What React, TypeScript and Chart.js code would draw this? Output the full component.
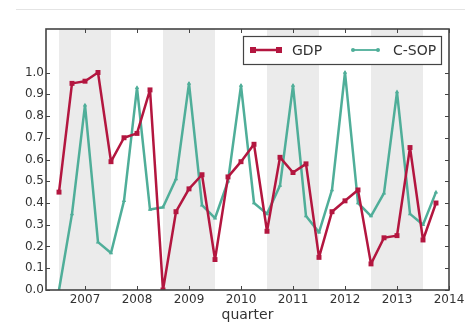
import { useEffect, useRef } from "react";
import { Chart, registerables } from "chart.js";

Chart.register(...registerables);

// Quarterly series, 2007Q1 .. 2014Q2
const years = ["2007", "2008", "2009", "2010", "2011", "2012", "2013", "2014"];
const gdp = [
  0.45, 0.95, 0.96, 1.0, 0.59, 0.7, 0.72, 0.92,
  0.0, 0.36, 0.465, 0.53, 0.14, 0.52, 0.59, 0.67,
  0.27, 0.61, 0.54, 0.58, 0.15, 0.36, 0.41, 0.46,
  0.12, 0.24, 0.25, 0.655, 0.23, 0.4,
];
const csop = [
  0.0, 0.35, 0.85, 0.22, 0.17, 0.41, 0.93, 0.37,
  0.38, 0.51, 0.95, 0.39, 0.33, 0.5, 0.94, 0.4,
  0.35, 0.48, 0.94, 0.34, 0.265, 0.46, 1.0, 0.4,
  0.34, 0.445, 0.91, 0.35, 0.3, 0.45,
];
const yTicks = [0, 0.1, 0.2, 0.3, 0.4, 0.5, 0.6, 0.7, 0.8, 0.9, 1.0];

const RED = "#b3163f";
const TEAL = "#4fae99";
const AXIS = "#444444";
const FONT = "'DejaVu Sans', sans-serif";

const decorations = {
  id: "decorations",
  beforeDatasetsDraw(chart: any) {
    const { ctx, chartArea, scales } = chart;
    const { top, bottom } = chartArea;
    const x = scales.x;
    ctx.save();
    ctx.fillStyle = "#ebebeb";
    years.forEach((_, i) => {
      if (i % 2 !== 0) return;
      const a = x.getPixelForValue(4 * i);
      const b = x.getPixelForValue(Math.min(4 * i + 4, x.max));
      ctx.fillRect(a, top, b - a, bottom - top);
    });
    ctx.restore();
  },
  afterDatasetsDraw(chart: any) {
    const { ctx, chartArea, scales } = chart;
    const { left, right, top, bottom } = chartArea;
    ctx.save();
    // inward tick marks on all four sides
    ctx.strokeStyle = AXIS;
    ctx.lineWidth = 1;
    ctx.beginPath();
    yTicks.forEach((v) => {
      const py = Math.round(scales.y.getPixelForValue(v)) + 0.5;
      ctx.moveTo(left, py);
      ctx.lineTo(left + 4, py);
      ctx.moveTo(right, py);
      ctx.lineTo(right - 4, py);
    });
    years.forEach((_, i) => {
      const px = Math.round(scales.x.getPixelForValue(4 * i + 2)) + 0.5;
      ctx.moveTo(px, bottom);
      ctx.lineTo(px, bottom - 4);
      ctx.moveTo(px, top);
      ctx.lineTo(px, top + 4);
    });
    ctx.stroke();
    // axes frame
    ctx.lineWidth = 1.6;
    ctx.strokeRect(left, top, right - left, bottom - top);
    ctx.restore();
  },
  afterDraw(chart: any) {
    const { ctx, chartArea } = chart;
    const { left, right } = chartArea;
    ctx.save();
    // faint rule near the top of the figure
    ctx.strokeStyle = "#e4e4e4";
    ctx.lineWidth = 1;
    ctx.beginPath();
    ctx.moveTo(16, 9.5);
    ctx.lineTo(465, 9.5);
    ctx.stroke();

    // axis title
    ctx.fillStyle = "#333";
    ctx.font = `14px ${FONT}`;
    ctx.textAlign = "center";
    ctx.textBaseline = "middle";
    ctx.fillText("quarter", (left + right) / 2, 315);

    // legend
    const lx = 243, ly = 36, lw = 198, lh = 28;
    ctx.fillStyle = "#ffffff";
    ctx.fillRect(lx, ly, lw, lh);
    ctx.strokeStyle = AXIS;
    ctx.lineWidth = 1.2;
    ctx.strokeRect(lx + 0.5, ly + 0.5, lw, lh);
    const cy = ly + lh / 2;
    // GDP entry
    ctx.strokeStyle = RED;
    ctx.lineWidth = 2.5;
    ctx.beginPath();
    ctx.moveTo(253, cy);
    ctx.lineTo(279, cy);
    ctx.stroke();
    ctx.fillStyle = RED;
    ctx.fillRect(250, cy - 3, 6, 6);
    ctx.fillRect(276, cy - 3, 6, 6);
    // C-SOP entry
    ctx.strokeStyle = TEAL;
    ctx.lineWidth = 1.8;
    ctx.beginPath();
    ctx.moveTo(353, cy);
    ctx.lineTo(378, cy);
    ctx.stroke();
    ctx.fillStyle = TEAL;
    [353, 378].forEach((px) => {
      ctx.beginPath();
      ctx.arc(px, cy, 2, 0, Math.PI * 2);
      ctx.fill();
    });
    ctx.fillStyle = "#333";
    ctx.font = `14px ${FONT}`;
    ctx.textAlign = "left";
    ctx.fillText("GDP", 292, cy + 1);
    ctx.fillText("C-SOP", 393, cy + 1);
    ctx.restore();
  },
};

export default function App() {
  const canvasRef = useRef<HTMLCanvasElement | null>(null);

  useEffect(() => {
    const canvas = canvasRef.current;
    if (!canvas) return;
    const chart = new Chart(canvas, {
      type: "line",
      data: {
        datasets: [
          {
            label: "GDP",
            data: gdp.map((v, i) => ({ x: i, y: v })),
            borderColor: RED,
            backgroundColor: RED,
            borderWidth: 2.5,
            borderJoinStyle: "round",
            pointStyle: "rect",
            pointRadius: 3.5,
            pointBorderWidth: 0,
            tension: 0,
          },
          {
            label: "C-SOP",
            data: csop.map((v, i) => ({ x: i, y: v })),
            borderColor: TEAL,
            backgroundColor: TEAL,
            borderWidth: 2.5,
            borderJoinStyle: "round",
            pointStyle: "triangle",
            pointRadius: 2.5,
            pointBorderWidth: 0,
            tension: 0,
          },
        ],
      },
      options: {
        animation: false,
        responsive: false,
        events: [],
        layout: { padding: { top: 29, right: 21, left: 0, bottom: 0 } },
        plugins: { legend: { display: false }, tooltip: { enabled: false } },
        scales: {
          x: {
            type: "linear",
            min: -1,
            max: 30,
            grid: { display: false, drawTicks: false },
            border: { display: false },
            afterBuildTicks: (scale: any) => {
              scale.ticks = years.map((_, i) => ({ value: 4 * i + 2 }));
            },
            afterFit: (scale: any) => {
              scale.height = 32;
            },
            ticks: {
              autoSkip: false,
              maxRotation: 0,
              padding: 3,
              color: "#333",
              font: { family: FONT, size: 12 },
              callback: (v: any) => years[Math.round((Number(v) - 2) / 4)] ?? "",
            },
          },
          y: {
            min: 0,
            max: 1.2,
            grid: { display: false, drawTicks: false },
            border: { display: false },
            afterBuildTicks: (scale: any) => {
              scale.ticks = yTicks.map((v) => ({ value: v }));
            },
            afterFit: (scale: any) => {
              scale.width = 46;
            },
            ticks: {
              padding: 2,
              color: "#333",
              font: { family: FONT, size: 12 },
              callback: (v: any) => Number(v).toFixed(1),
            },
          },
        },
      },
      plugins: [decorations],
    });
    return () => chart.destroy();
  }, []);

  return (
    <div
      style={{
        position: "fixed",
        left: 0,
        top: 0,
        width: 470,
        height: 322,
        background: "#fff",
      }}
    >
      <canvas ref={canvasRef} width={470} height={322} style={{ display: "block" }} />
    </div>
  );
}
